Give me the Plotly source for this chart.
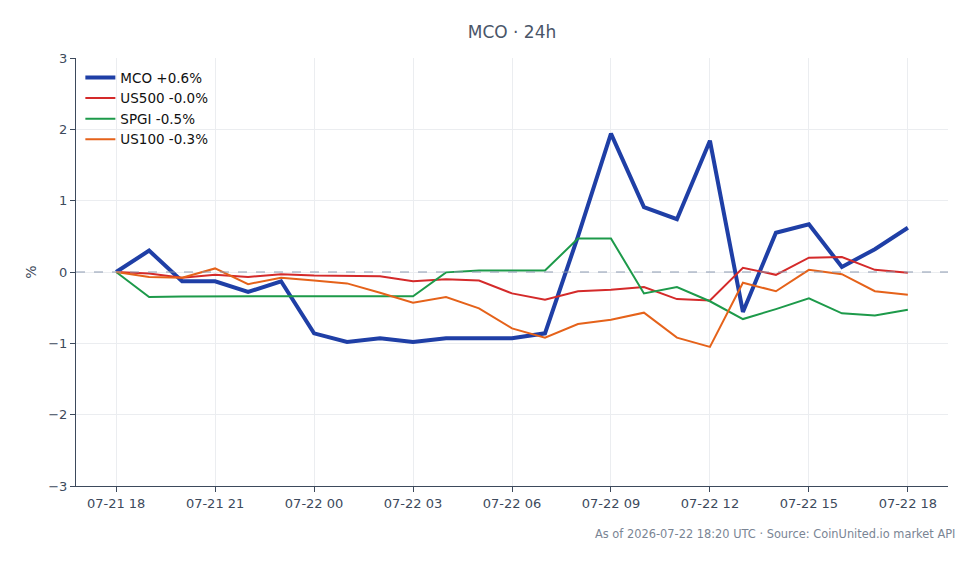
import plotly.graph_objects as go
import pandas as pd

times = pd.date_range("2026-07-21 18:00", periods=25, freq="h")

mco = [0, 0.30, -0.13, -0.13, -0.28, -0.13, -0.86, -0.98, -0.93, -0.98, -0.93, -0.93, -0.93,
       -0.86, 0.50, 1.94, 0.91, 0.74, 1.84, -0.56, 0.55, 0.67, 0.07, 0.32, 0.62]
us500 = [0, -0.02, -0.08, -0.04, -0.07, -0.03, -0.05, -0.06, -0.06, -0.13, -0.10, -0.12, -0.30,
         -0.39, -0.27, -0.25, -0.21, -0.38, -0.40, 0.06, -0.04, 0.20, 0.21, 0.03, -0.01]
spgi = [0, -0.35, -0.345, -0.34, -0.34, -0.34, -0.34, -0.34, -0.34, -0.34, -0.005, 0.02, 0.02,
        0.02, 0.47, 0.47, -0.30, -0.21, -0.41, -0.66, -0.52, -0.37, -0.58, -0.61, -0.53]
us100 = [0, -0.07, -0.08, 0.05, -0.17, -0.08, -0.12, -0.16, -0.29, -0.43, -0.35, -0.51, -0.79,
         -0.92, -0.73, -0.67, -0.57, -0.92, -1.05, -0.15, -0.27, 0.03, -0.03, -0.27, -0.32]

names = ["MCO +0.6%", "US500 -0.0%", "SPGI -0.5%", "US100 -0.3%"]
colors = ["#1f3fa6", "#d42a2a", "#1d9a4a", "#e5621a"]
widths = [4, 2, 2, 2]
series = [mco, us500, spgi, us100]

fig = go.Figure()
for s, n, c, w in zip(series, names, colors, widths):
    fig.add_trace(go.Scatter(x=times, y=s, mode="lines", name=n,
                             line=dict(color=c, width=w)))

fig.add_shape(type="line", xref="paper", x0=0, x1=1, yref="y", y0=0, y1=0,
              line=dict(color="#8c9ab0", width=1, dash="dash"))

fig.update_layout(
    width=980, height=564,
    margin=dict(l=76, r=32, t=58, b=78),
    paper_bgcolor="white", plot_bgcolor="white",
    font=dict(family="DejaVu Sans", size=13, color="#3d4a5c"),
    title=dict(text="MCO · 24h", x=0.5, xref="paper", y=0.943, yref="container",
               xanchor="center", yanchor="middle", font=dict(size=17, color="#4a5568")),
    showlegend=True,
    legend=dict(x=0.005, y=0.99, xanchor="left", yanchor="top",
                bgcolor="rgba(255,255,255,0)", font=dict(size=13.5, color="#111"),
                tracegroupgap=2),
    xaxis=dict(
        range=[pd.Timestamp("2026-07-21 16:47"), pd.Timestamp("2026-07-22 19:13")],
        tickformat="%m-%d %H", dtick=3 * 3600000,
        tick0="2026-07-21 18:00",
        showgrid=True, gridcolor="#ebedf0",
        showline=True, linecolor="#3d4a5c", linewidth=1,
        ticks="outside", ticklen=5, tickcolor="#3d4a5c",
        tickfont=dict(size=13, color="#3d4a5c"),
        zeroline=False,
    ),
    yaxis=dict(
        range=[-3, 3], dtick=1,
        showgrid=True, gridcolor="#ebedf0",
        showline=True, linecolor="#3d4a5c", linewidth=1,
        ticks="outside", ticklen=5, tickcolor="#3d4a5c",
        tickfont=dict(size=13, color="#3d4a5c"),
        zeroline=False,
        title=dict(text="%", font=dict(size=14, color="#3d4a5c"), standoff=8),
    ),
)

fig.add_annotation(text="As of 2026-07-22 18:20 UTC · Source: CoinUnited.io market API",
                   xref="paper", yref="paper", x=1.01, y=-0.09, xanchor="right",
                   yanchor="top", showarrow=False,
                   font=dict(size=11.4, color="#7a8594"))

fig.write_html("out.html")
